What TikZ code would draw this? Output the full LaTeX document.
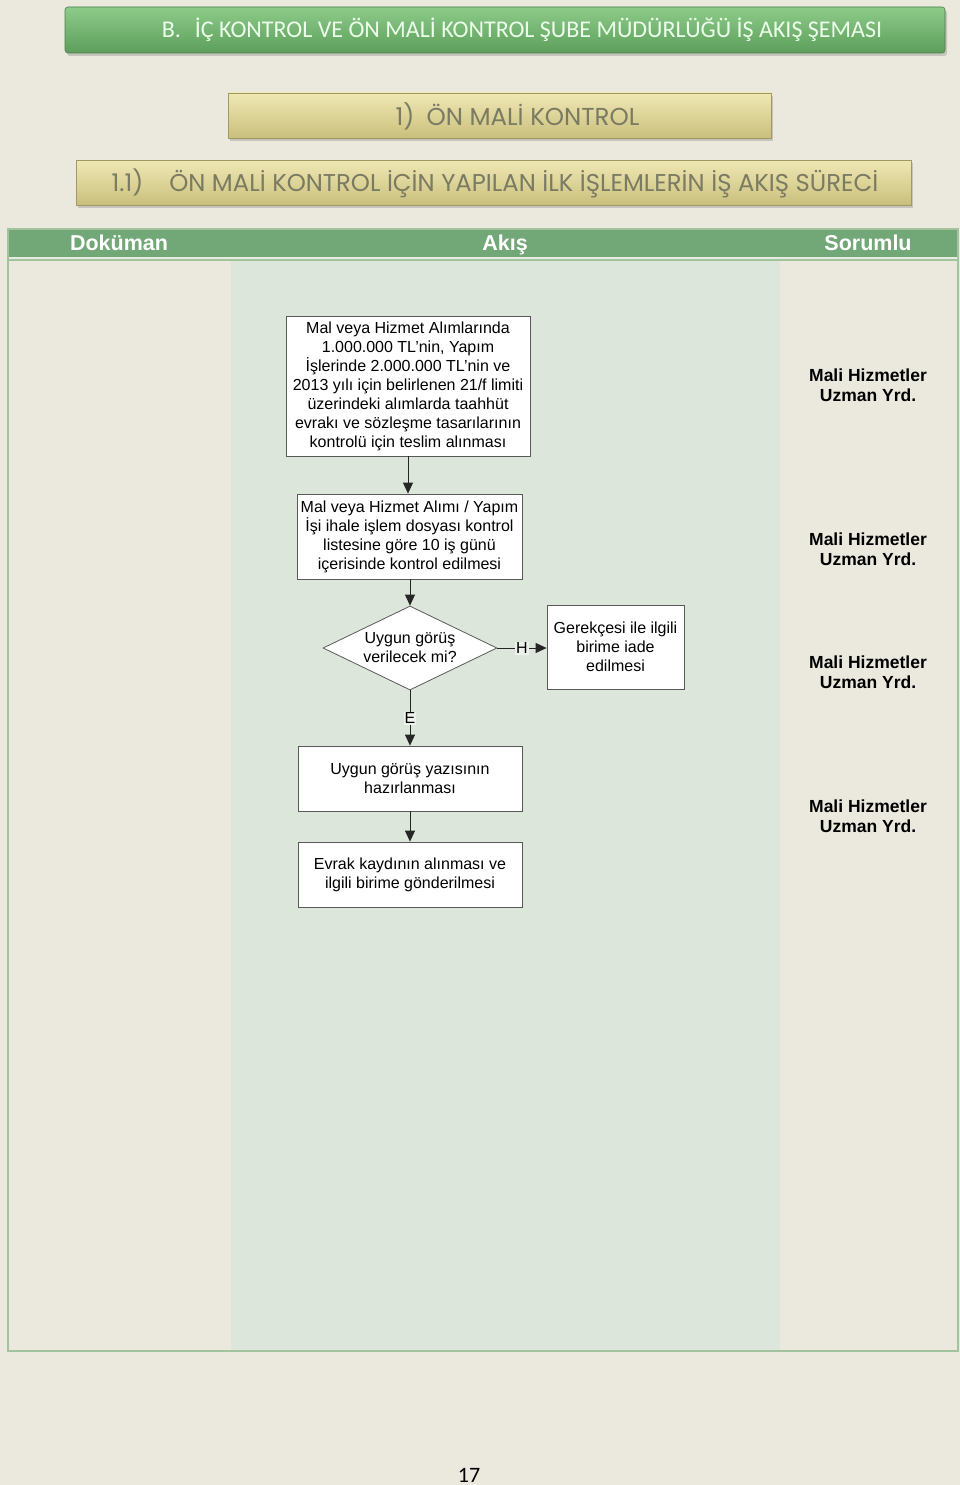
\documentclass[tikz,border=0pt]{standalone}
\usepackage{fontspec}
\setmainfont{Liberation Sans}
\newfontfamily\bannerFont{Carlito}
\newfontfamily\gothicFont{Poppins}
\usetikzlibrary{shapes.geometric,arrows.meta,shadows}
\definecolor{pageBg}{HTML}{EBE9DE}
\definecolor{flowBg}{HTML}{DCE6DA}
\definecolor{headGreen}{HTML}{72A878}
\definecolor{lineGreen}{HTML}{A3C39E}
\definecolor{bannerTop}{HTML}{8CCB88}
\definecolor{bannerBot}{HTML}{5E9E5C}
\definecolor{khakiTop}{HTML}{EFE8B4}
\definecolor{khakiBot}{HTML}{C9BF7C}
\definecolor{khakiText}{HTML}{7B7A63}
\definecolor{labelBg}{HTML}{EEF2EC}
\newcommand{\boxFont}[0]{\fontsize{16}{19}\selectfont}
\newcommand{\roleFont}[0]{\fontsize{17.5}{20}\selectfont\bfseries}
\newcommand{\roleText}[0]{Mali Hizmetler\\Uzman Yrd.}

\begin{document}
\begin{tikzpicture}[x=1pt, y=-1pt]
  \tikzset{flow box/.style={draw=black!65, fill=white, line width=0.8pt, align=center, inner sep=0pt, font=\boxFont},
    flow arrow/.style={draw=black!85, line width=0.8pt, -{Triangle[length=11pt,width=10pt]}},
    arrow label/.style={fill=labelBg, inner sep=1pt, font=\boxFont},
    role/.style={align=center, font=\roleFont},
    head/.style={text=white, text height=15.5pt, text depth=0pt, inner sep=0pt, font=\fontsize{21.5}{24}\selectfont\bfseries},
    green banner/.style={draw=bannerBot!80!black, line width=0.6pt, rounded corners=3pt, top color=bannerTop, bottom color=bannerBot, drop shadow={shadow xshift=2pt, shadow yshift=-3pt, opacity=0.35}},
    khaki banner/.style={draw=khakiBot!80!black, line width=0.6pt, top color=khakiTop, bottom color=khakiBot, drop shadow={shadow xshift=2pt, shadow yshift=-3pt, opacity=0.35}}}
  \fill[pageBg] (0,0) rectangle (960,1485);
  \useasboundingbox (0,0) rectangle (960,1485);

  \node[green banner, minimum width=880pt, minimum height=46pt] (BANNER-B) at (505,30) {};
  \node[text=white!92!green, font=\bannerFont\fontsize{24}{28}\selectfont] (TITLE-B) at (522,30) {B.\hspace{14pt}İÇ KONTROL VE ÖN MALİ KONTROL ŞUBE MÜDÜRLÜĞÜ İŞ AKIŞ ŞEMASI};
  \node[khaki banner, minimum width=543pt, minimum height=45pt] (BANNER-1) at (499.5,115.5) {};
  \node[text=khakiText, font=\gothicFont\fontsize{24.5}{28}\selectfont] (TITLE-1) at (517.5,116) {1)\hspace{12pt}ÖN MALİ KONTROL};
  \node[khaki banner, minimum width=835pt, minimum height=45pt] (BANNER-1-1) at (493.5,182.5) {};
  \node[text=khakiText, font=\gothicFont\fontsize{24.3}{28}\selectfont] (TITLE-1-1) at (495,183) {1.1)\hspace{26pt}ÖN MALİ KONTROL İÇİN YAPILAN İLK İŞLEMLERİN İŞ AKIŞ SÜRECİ};

  \fill[flowBg] (231,260) rectangle (780,1350);
  \fill[headGreen] (9,230) rectangle (957,257);
  \draw[white!70!lineGreen, line width=1pt] (9,258) -- (957,258);
  \draw[lineGreen, line width=1.2pt] (9,260) -- (957,260);
  \draw[lineGreen, line width=2pt] (8,229) rectangle (958,1351);
  \node[head] (HEAD-DOC) at (119,243) {Doküman};
  \node[head] (HEAD-FLOW) at (505,243) {Akış};
  \node[head] (HEAD-RESP) at (868,243) {Sorumlu};

  \node[flow box, minimum width=244pt, minimum height=140pt] (BOX-1) at (408,386) {Mal veya Hizmet Alımlarında\\1.000.000 TL’nin, Yapım\\İşlerinde 2.000.000 TL’nin ve\\2013 yılı için belirlenen 21/f limiti\\üzerindeki alımlarda taahhüt\\evrakı ve sözleşme tasarılarının\\kontrolü için teslim alınması};
  \node[flow box, minimum width=225pt, minimum height=85pt] (BOX-2) at (409.5,536.5) {Mal veya Hizmet Alımı / Yapım\\İşi ihale işlem dosyası kontrol\\listesine göre 10 iş günü\\içerisinde kontrol edilmesi};
  \node[flow box, diamond, aspect=2.07, minimum width=174pt, minimum height=84pt] (DEC-1) at (410,648) {Uygun görüş\\verilecek mi?};
  \node[flow box, minimum width=137pt, minimum height=84pt] (BOX-3) at (615.5,647) {Gerekçesi ile ilgili\\birime iade\\edilmesi};
  \node[flow box, minimum width=224pt, minimum height=65pt] (BOX-4) at (410,778.5) {Uygun görüş yazısının\\hazırlanması};
  \node[flow box, minimum width=224pt, minimum height=65pt] (BOX-5) at (410,874.5) {Evrak kaydının alınması ve\\ilgili birime gönderilmesi};

  \draw[flow arrow] (BOX-1.south) -- (BOX-2.north -| BOX-1.south);
  \draw[flow arrow] (BOX-2.south -| DEC-1.north) -- (DEC-1.north);
  \draw[flow arrow] (DEC-1.east) -- node[arrow label] (LBL-H) {H} (BOX-3.west |- DEC-1.east);
  \draw[flow arrow] (DEC-1.south) -- node[arrow label] (LBL-E) {E} (BOX-4.north);
  \draw[flow arrow] (BOX-4.south) -- (BOX-5.north);

  \node[role] (RESP-1) at (868,385) {\roleText};
  \node[role] (RESP-2) at (868,549) {\roleText};
  \node[role] (RESP-3) at (868,672) {\roleText};
  \node[role] (RESP-4) at (868,816) {\roleText};

  \node[font=\bannerFont\fontsize{22}{26}\selectfont] (PAGE-NO) at (469,1475) {17};
\end{tikzpicture}
\end{document}
